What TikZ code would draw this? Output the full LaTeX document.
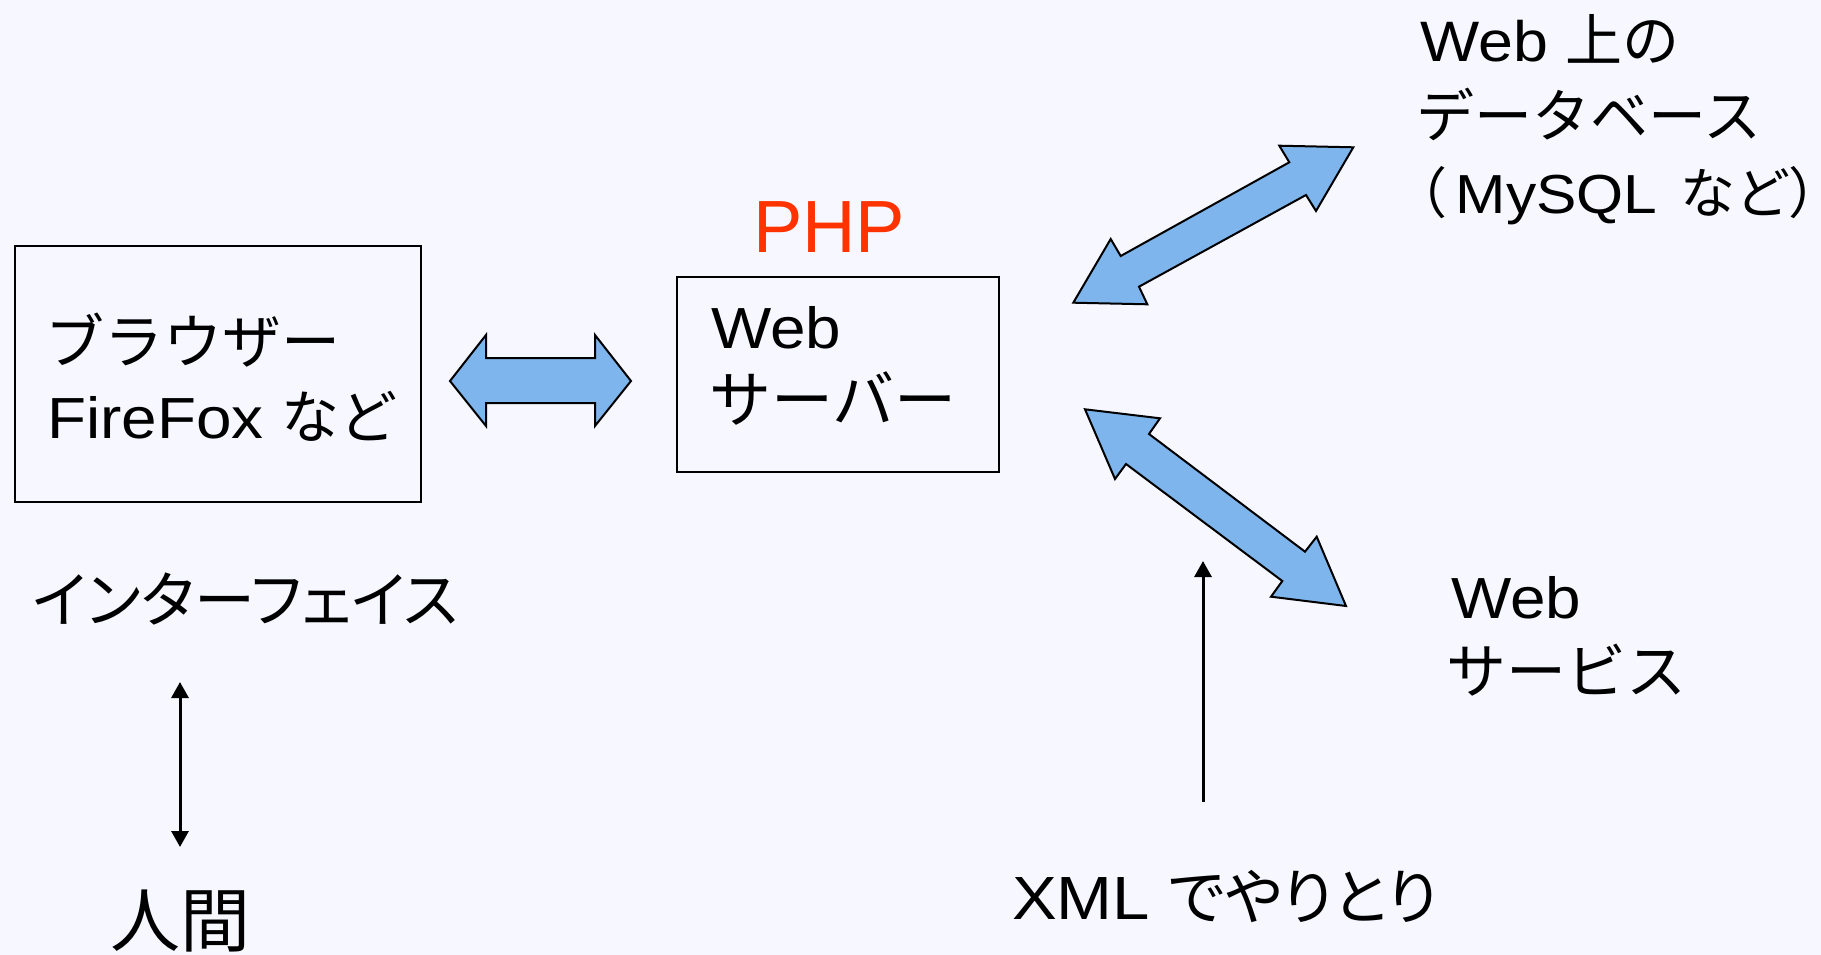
\documentclass[tikz,border=0pt]{standalone}
\usepackage{fontspec}
\setmainfont[FakeStretch=1.1]{Liberation Sans}
\newfontfamily\plainsans{Liberation Sans}
\newfontfamily\jp{Noto Sans CJK JP}
\newfontfamily\jpp[RawFeature=+palt]{Noto Sans CJK JP}
\usetikzlibrary{arrows.meta}
\definecolor{bg}{RGB}{246,247,255}
\definecolor{blk}{RGB}{125,181,236}
\definecolor{phpred}{RGB}{255,51,0}
\begin{document}
\begin{tikzpicture}[x=1pt,y=-1pt,
  txt/.style={anchor=base west, inner sep=0pt, font=\fontsize{58}{70}\selectfont},
  box/.style={draw=black, line width=2pt, inner sep=0pt, anchor=north west},
  blockarrow/.style={fill=blk, draw=black, line width=2pt, line join=miter},
  thinarrow/.style={line width=3pt, {Triangle[width=17pt,length=16pt]}-{Triangle[width=17pt,length=16pt]}},
  onearrow/.style={line width=3pt, -{Triangle[width=17pt,length=16pt]}}
]
\fill[bg] (0,0) rectangle (1821,955);
\useasboundingbox (0,0) rectangle (1821,955);

% boxes
\node[box, minimum width=406pt, minimum height=256pt] (browser) at (14,245) {};
\node[box, minimum width=322pt, minimum height=195pt] (server) at (676,276) {};

% browser text
\node[txt, font=\fontsize{59}{70}\selectfont] (br1) at (45,363) {\jp ブラウザー};
\node[txt] (br2) at (47,438) {FireFox {\jp など}};

% server text
\node[txt] (sv1) at (711,348) {Web};
\node[txt, font=\fontsize{62}{70}\selectfont] (sv2) at (709,422) {\jp サーバー};

% PHP
\node[txt, font=\fontsize{74}{80}\selectfont\plainsans, text=phpred] (php) at (753,252) {PHP};

% database text
\node[txt, font=\fontsize{57}{70}\selectfont] (db1) at (1420,62) {Web {\jp 上の}};
\node[txt] (db2) at (1416,138) {\jp データベース};
\node[txt, font=\fontsize{55}{70}\selectfont] (db3) at (1418,213) {{\jpp （}\hspace{10pt}MySQL\hspace{6pt} {\jp など}{\jpp\makebox[0.25em][l]{）}}};

% web service text
\node[txt] (ws1) at (1451,618) {Web};
\node[txt, font=\fontsize{60}{70}\selectfont] (ws2) at (1446,693) {\jp サービス};

% interface, human, xml
\node[txt, font=\fontsize{61}{70}\selectfont] (ifc) at (33,622) {\jpp インターフェイス};
\node[txt, font=\fontsize{70}{80}\selectfont] (hum) at (110,946) {\jp 人間};
\node[txt, font=\fontsize{61}{70}\selectfont] (xml) at (1012,919) {XML {\jpp でやりとり}};

% block arrows
\draw[blockarrow] (450,381) -- (486,335) -- (486,358) -- (595,358) -- (595,335) -- (631,381) -- (595,426) -- (595,403) -- (486,403) -- (486,426) -- cycle;
\draw[blockarrow] (1353.3,147.3) -- (1279.3,145.7) -- (1289.3,162.3) -- (1120.7,256) -- (1110.7,239) -- (1073.3,302.7) -- (1147.3,304.3) -- (1139,286.7) -- (1306,195) -- (1316,211) -- cycle;
\draw[blockarrow] (1085,409.3) -- (1160,418.3) -- (1149,434) -- (1305,551.7) -- (1316.7,536.7) -- (1346,606) -- (1271,596.7) -- (1282.3,581) -- (1126,464) -- (1115,479) -- cycle;

% thin arrows
\coordinate (ifcend) at (180,682);
\coordinate (humend) at (180,847);
\draw[thinarrow] (ifcend) -- (humend);
\coordinate (xmlend) at (1203,802);
\coordinate (xmltip) at (1203,561);
\draw[onearrow] (xmlend) -- (xmltip);
\end{tikzpicture}
\end{document}
